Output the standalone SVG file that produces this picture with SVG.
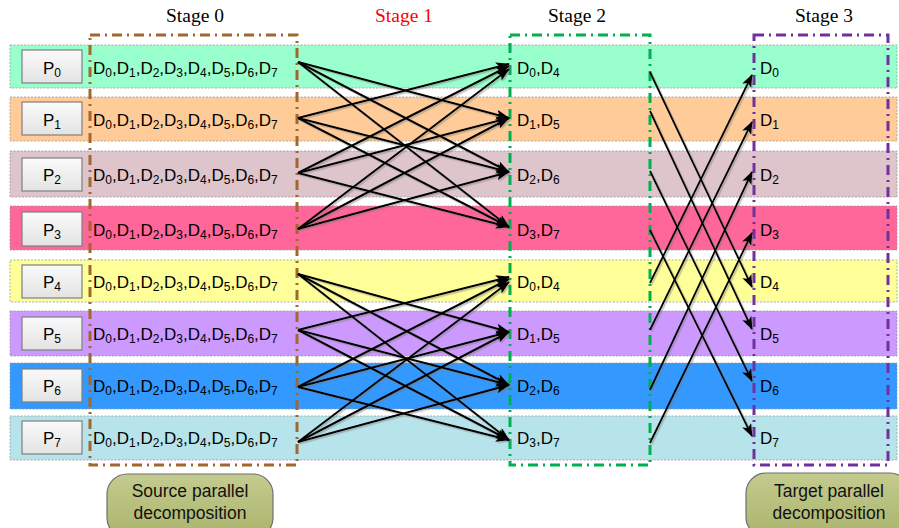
<svg xmlns="http://www.w3.org/2000/svg" width="899" height="528" viewBox="0 0 899 528">
<defs>
<style>
.band{stroke:#9a9a9a;stroke-width:0.8;stroke-dasharray:2 1.5}
.pbox{fill:url(#pg);stroke:#7f7f7f;stroke-width:1.2}
.t{font-family:"Liberation Sans",Arial,sans-serif;font-size:17px;fill:#000}
.s{font-size:12px}
.stage{font-family:"Liberation Serif","Times New Roman",serif;font-size:19.5px;text-anchor:middle}
.box{fill:none;stroke-width:3;stroke-dasharray:10 5 2 5}
.lbl{fill:url(#og);stroke:#6f6f6f;stroke-width:1.2}
.lt{font-family:"Liberation Sans",Arial,sans-serif;font-size:17.5px;text-anchor:middle;fill:#111}
.a1{stroke:#000;stroke-width:2;fill:none;marker-end:url(#ah)}
.a2{stroke:#000;stroke-width:1.8;fill:none;marker-end:url(#ah2)}
</style>
<linearGradient id="pg" x1="0" y1="0" x2="0" y2="1"><stop offset="0" stop-color="#fafafa"/><stop offset="1" stop-color="#e3e3e3"/></linearGradient>
<linearGradient id="og" x1="0" y1="0" x2="0" y2="1"><stop offset="0" stop-color="#c4cb8f"/><stop offset="1" stop-color="#a9b46b"/></linearGradient>
<marker id="ah" markerUnits="userSpaceOnUse" markerWidth="14" markerHeight="10" refX="13" refY="5" orient="auto"><path d="M0,0 L14,5 L0,10 L3,5 z" fill="#000"/></marker>
<marker id="ah2" markerUnits="userSpaceOnUse" markerWidth="13" markerHeight="10" refX="12" refY="5" orient="auto"><path d="M0,0 L13,5 L0,10 L3,5 z" fill="#000"/></marker>
<filter id="sh" x="-10%" y="-10%" width="120%" height="120%"><feDropShadow dx="1.5" dy="1.5" stdDeviation="0.7" flood-color="#777" flood-opacity="0.45"/></filter>
</defs>
<rect width="899" height="528" fill="#fff"/>

<text class="stage" x="195" y="22">Stage 0</text>
<text class="stage" x="404" y="22" fill="#ff0000">Stage 1</text>
<text class="stage" x="577" y="22">Stage 2</text>
<text class="stage" x="824" y="22">Stage 3</text>

<g id="row0">
<rect class="band" x="10" y="45" width="887" height="43" fill="#99ffcc"/>
<rect class="pbox" x="22" y="50" width="60" height="33"/>
<text class="t" x="43" y="74">P<tspan class="s" dy="3">0</tspan></text>
<text class="t" x="93" y="74">D<tspan class="s" dy="3">0</tspan><tspan dy="-3">,D</tspan><tspan class="s" dy="3">1</tspan><tspan dy="-3">,D</tspan><tspan class="s" dy="3">2</tspan><tspan dy="-3">,D</tspan><tspan class="s" dy="3">3</tspan><tspan dy="-3">,D</tspan><tspan class="s" dy="3">4</tspan><tspan dy="-3">,D</tspan><tspan class="s" dy="3">5</tspan><tspan dy="-3">,D</tspan><tspan class="s" dy="3">6</tspan><tspan dy="-3">,D</tspan><tspan class="s" dy="3">7</tspan></text>
<text class="t" x="517" y="74">D<tspan class="s" dy="3">0</tspan><tspan dy="-3">,D</tspan><tspan class="s" dy="3">4</tspan></text>
<text class="t" x="760" y="74">D<tspan class="s" dy="3">0</tspan></text>
</g>
<g id="row1">
<rect class="band" x="10" y="97" width="887" height="44" fill="#ffcc99"/>
<rect class="pbox" x="22" y="102" width="60" height="33"/>
<text class="t" x="43" y="126">P<tspan class="s" dy="3">1</tspan></text>
<text class="t" x="93" y="126">D<tspan class="s" dy="3">0</tspan><tspan dy="-3">,D</tspan><tspan class="s" dy="3">1</tspan><tspan dy="-3">,D</tspan><tspan class="s" dy="3">2</tspan><tspan dy="-3">,D</tspan><tspan class="s" dy="3">3</tspan><tspan dy="-3">,D</tspan><tspan class="s" dy="3">4</tspan><tspan dy="-3">,D</tspan><tspan class="s" dy="3">5</tspan><tspan dy="-3">,D</tspan><tspan class="s" dy="3">6</tspan><tspan dy="-3">,D</tspan><tspan class="s" dy="3">7</tspan></text>
<text class="t" x="517" y="126">D<tspan class="s" dy="3">1</tspan><tspan dy="-3">,D</tspan><tspan class="s" dy="3">5</tspan></text>
<text class="t" x="760" y="126">D<tspan class="s" dy="3">1</tspan></text>
</g>
<g id="row2">
<rect class="band" x="10" y="151" width="887" height="46" fill="#dec4cb"/>
<rect class="pbox" x="22" y="158" width="60" height="33"/>
<text class="t" x="43" y="181">P<tspan class="s" dy="3">2</tspan></text>
<text class="t" x="93" y="181">D<tspan class="s" dy="3">0</tspan><tspan dy="-3">,D</tspan><tspan class="s" dy="3">1</tspan><tspan dy="-3">,D</tspan><tspan class="s" dy="3">2</tspan><tspan dy="-3">,D</tspan><tspan class="s" dy="3">3</tspan><tspan dy="-3">,D</tspan><tspan class="s" dy="3">4</tspan><tspan dy="-3">,D</tspan><tspan class="s" dy="3">5</tspan><tspan dy="-3">,D</tspan><tspan class="s" dy="3">6</tspan><tspan dy="-3">,D</tspan><tspan class="s" dy="3">7</tspan></text>
<text class="t" x="517" y="181">D<tspan class="s" dy="3">2</tspan><tspan dy="-3">,D</tspan><tspan class="s" dy="3">6</tspan></text>
<text class="t" x="760" y="181">D<tspan class="s" dy="3">2</tspan></text>
</g>
<g id="row3">
<rect class="band" x="10" y="206" width="887" height="44" fill="#ff6699"/>
<rect class="pbox" x="22" y="212" width="60" height="34"/>
<text class="t" x="43" y="236">P<tspan class="s" dy="3">3</tspan></text>
<text class="t" x="93" y="236">D<tspan class="s" dy="3">0</tspan><tspan dy="-3">,D</tspan><tspan class="s" dy="3">1</tspan><tspan dy="-3">,D</tspan><tspan class="s" dy="3">2</tspan><tspan dy="-3">,D</tspan><tspan class="s" dy="3">3</tspan><tspan dy="-3">,D</tspan><tspan class="s" dy="3">4</tspan><tspan dy="-3">,D</tspan><tspan class="s" dy="3">5</tspan><tspan dy="-3">,D</tspan><tspan class="s" dy="3">6</tspan><tspan dy="-3">,D</tspan><tspan class="s" dy="3">7</tspan></text>
<text class="t" x="517" y="236">D<tspan class="s" dy="3">3</tspan><tspan dy="-3">,D</tspan><tspan class="s" dy="3">7</tspan></text>
<text class="t" x="760" y="236">D<tspan class="s" dy="3">3</tspan></text>
</g>
<g id="row4">
<rect class="band" x="10" y="260" width="887" height="42" fill="#ffff99"/>
<rect class="pbox" x="22" y="265" width="60" height="33"/>
<text class="t" x="43" y="288">P<tspan class="s" dy="3">4</tspan></text>
<text class="t" x="93" y="288">D<tspan class="s" dy="3">0</tspan><tspan dy="-3">,D</tspan><tspan class="s" dy="3">1</tspan><tspan dy="-3">,D</tspan><tspan class="s" dy="3">2</tspan><tspan dy="-3">,D</tspan><tspan class="s" dy="3">3</tspan><tspan dy="-3">,D</tspan><tspan class="s" dy="3">4</tspan><tspan dy="-3">,D</tspan><tspan class="s" dy="3">5</tspan><tspan dy="-3">,D</tspan><tspan class="s" dy="3">6</tspan><tspan dy="-3">,D</tspan><tspan class="s" dy="3">7</tspan></text>
<text class="t" x="517" y="288">D<tspan class="s" dy="3">0</tspan><tspan dy="-3">,D</tspan><tspan class="s" dy="3">4</tspan></text>
<text class="t" x="760" y="288">D<tspan class="s" dy="3">4</tspan></text>
</g>
<g id="row5">
<rect class="band" x="10" y="311" width="887" height="45" fill="#cc99ff"/>
<rect class="pbox" x="22" y="317" width="60" height="33"/>
<text class="t" x="43" y="340">P<tspan class="s" dy="3">5</tspan></text>
<text class="t" x="93" y="340">D<tspan class="s" dy="3">0</tspan><tspan dy="-3">,D</tspan><tspan class="s" dy="3">1</tspan><tspan dy="-3">,D</tspan><tspan class="s" dy="3">2</tspan><tspan dy="-3">,D</tspan><tspan class="s" dy="3">3</tspan><tspan dy="-3">,D</tspan><tspan class="s" dy="3">4</tspan><tspan dy="-3">,D</tspan><tspan class="s" dy="3">5</tspan><tspan dy="-3">,D</tspan><tspan class="s" dy="3">6</tspan><tspan dy="-3">,D</tspan><tspan class="s" dy="3">7</tspan></text>
<text class="t" x="517" y="340">D<tspan class="s" dy="3">1</tspan><tspan dy="-3">,D</tspan><tspan class="s" dy="3">5</tspan></text>
<text class="t" x="760" y="340">D<tspan class="s" dy="3">5</tspan></text>
</g>
<g id="row6">
<rect class="band" x="10" y="363" width="887" height="46" fill="#3399ff"/>
<rect class="pbox" x="22" y="369" width="60" height="33"/>
<text class="t" x="43" y="392">P<tspan class="s" dy="3">6</tspan></text>
<text class="t" x="93" y="392">D<tspan class="s" dy="3">0</tspan><tspan dy="-3">,D</tspan><tspan class="s" dy="3">1</tspan><tspan dy="-3">,D</tspan><tspan class="s" dy="3">2</tspan><tspan dy="-3">,D</tspan><tspan class="s" dy="3">3</tspan><tspan dy="-3">,D</tspan><tspan class="s" dy="3">4</tspan><tspan dy="-3">,D</tspan><tspan class="s" dy="3">5</tspan><tspan dy="-3">,D</tspan><tspan class="s" dy="3">6</tspan><tspan dy="-3">,D</tspan><tspan class="s" dy="3">7</tspan></text>
<text class="t" x="517" y="392">D<tspan class="s" dy="3">2</tspan><tspan dy="-3">,D</tspan><tspan class="s" dy="3">6</tspan></text>
<text class="t" x="760" y="392">D<tspan class="s" dy="3">6</tspan></text>
</g>
<g id="row7">
<rect class="band" x="10" y="416" width="887" height="44" fill="#b7e4ea"/>
<rect class="pbox" x="22" y="421" width="60" height="33"/>
<text class="t" x="43" y="444">P<tspan class="s" dy="3">7</tspan></text>
<text class="t" x="93" y="444">D<tspan class="s" dy="3">0</tspan><tspan dy="-3">,D</tspan><tspan class="s" dy="3">1</tspan><tspan dy="-3">,D</tspan><tspan class="s" dy="3">2</tspan><tspan dy="-3">,D</tspan><tspan class="s" dy="3">3</tspan><tspan dy="-3">,D</tspan><tspan class="s" dy="3">4</tspan><tspan dy="-3">,D</tspan><tspan class="s" dy="3">5</tspan><tspan dy="-3">,D</tspan><tspan class="s" dy="3">6</tspan><tspan dy="-3">,D</tspan><tspan class="s" dy="3">7</tspan></text>
<text class="t" x="517" y="444">D<tspan class="s" dy="3">3</tspan><tspan dy="-3">,D</tspan><tspan class="s" dy="3">7</tspan></text>
<text class="t" x="760" y="444">D<tspan class="s" dy="3">7</tspan></text>
</g>

<g id="stage-boxes">
<rect class="box" x="90" y="35" width="207" height="430" stroke="#a0682e"/>
<rect class="box" x="510" y="35" width="140" height="430" stroke="#00b050"/>
<rect class="box" x="754" y="35" width="134" height="430" stroke="#7030a0"/>
</g>

<g id="connectors" filter="url(#sh)">
<line class="a1" x1="298" y1="62" x2="509" y2="118"/>
<line class="a1" x1="298" y1="62" x2="509" y2="172"/>
<line class="a1" x1="298" y1="62" x2="509" y2="227"/>
<line class="a1" x1="298" y1="118" x2="509" y2="64"/>
<line class="a1" x1="298" y1="118" x2="509" y2="172"/>
<line class="a1" x1="298" y1="118" x2="509" y2="227"/>
<line class="a1" x1="298" y1="173" x2="509" y2="66"/>
<line class="a1" x1="298" y1="173" x2="509" y2="118"/>
<line class="a1" x1="298" y1="173" x2="509" y2="227"/>
<line class="a1" x1="298" y1="229" x2="509" y2="69"/>
<line class="a1" x1="298" y1="229" x2="509" y2="118"/>
<line class="a1" x1="298" y1="229" x2="509" y2="172"/>
<line class="a1" x1="298" y1="274" x2="509" y2="332"/>
<line class="a1" x1="298" y1="274" x2="509" y2="385"/>
<line class="a1" x1="298" y1="274" x2="509" y2="440"/>
<line class="a1" x1="298" y1="330" x2="509" y2="277"/>
<line class="a1" x1="298" y1="330" x2="509" y2="385"/>
<line class="a1" x1="298" y1="330" x2="509" y2="440"/>
<line class="a1" x1="298" y1="387" x2="509" y2="279"/>
<line class="a1" x1="298" y1="387" x2="509" y2="332"/>
<line class="a1" x1="298" y1="387" x2="509" y2="440"/>
<line class="a1" x1="298" y1="442" x2="509" y2="282"/>
<line class="a1" x1="298" y1="442" x2="509" y2="332"/>
<line class="a1" x1="298" y1="442" x2="509" y2="385"/>
<line class="a2" x1="650" y1="72" x2="752" y2="287"/>
<line class="a2" x1="650" y1="111" x2="752" y2="329"/>
<line class="a2" x1="650" y1="171" x2="752" y2="381"/>
<line class="a2" x1="650" y1="230" x2="752" y2="436"/>
<line class="a2" x1="650" y1="283" x2="752" y2="75"/>
<line class="a2" x1="650" y1="330" x2="752" y2="122"/>
<line class="a2" x1="650" y1="390" x2="752" y2="172"/>
<line class="a2" x1="650" y1="443" x2="752" y2="233"/>
</g>

<g id="source-label">
<rect class="lbl" x="107" y="474" width="166" height="64" rx="20"/>
<text class="lt" x="190" y="497">Source parallel</text>
<text class="lt" x="190" y="519">decomposition</text>
</g>
<g id="target-label">
<rect class="lbl" x="746" y="473" width="164" height="64" rx="20"/>
<text class="lt" x="829" y="497">Target parallel</text>
<text class="lt" x="829" y="519">decomposition</text>
</g>
</svg>
